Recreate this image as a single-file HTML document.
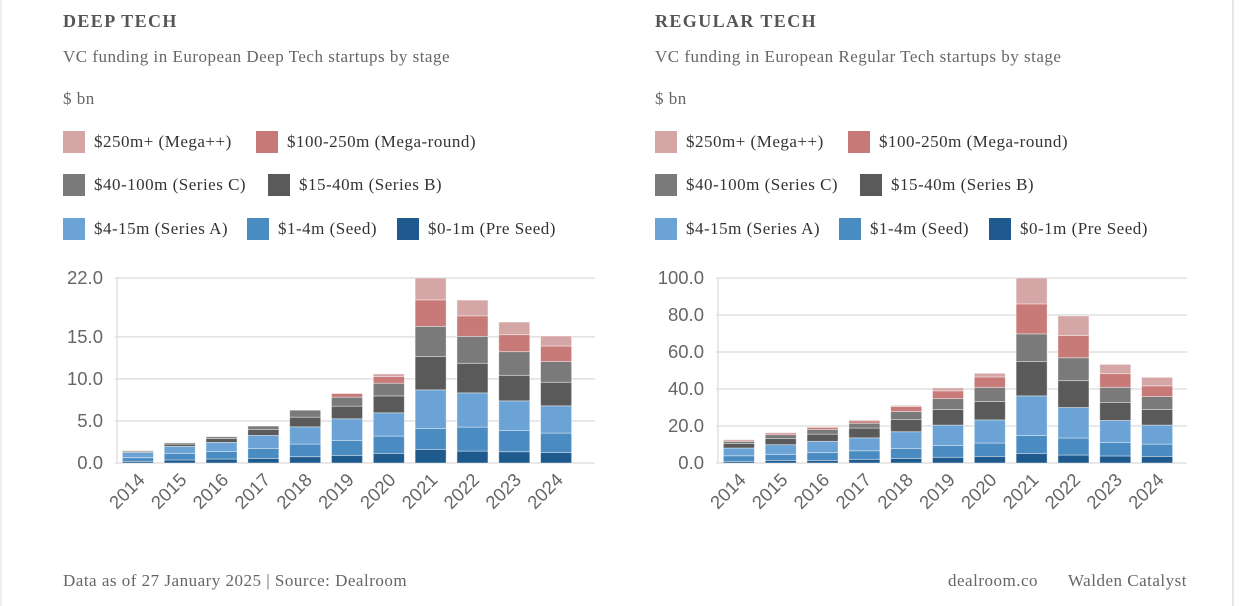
<!DOCTYPE html>
<html><head><meta charset="utf-8"><style>
body{margin:0;background:#fff;width:1248px;height:606px;overflow:hidden;position:relative;font-family:"Liberation Serif",serif;color:#555}
.t{position:absolute;font-weight:bold;font-size:18px;letter-spacing:1.4px;color:#555}
.s{position:absolute;font-size:17px;letter-spacing:0.5px;color:#666}
.lg{position:absolute;font-size:17px;letter-spacing:0.5px;color:#333;display:flex;align-items:center}
.sw{width:22px;height:22px;margin-right:9px;display:inline-block}
svg{position:absolute;left:0;top:0}
</style></head><body>
<div style="position:absolute;left:1232px;top:0;width:2px;height:606px;background:#e6e6e6"></div>
<div style="position:absolute;left:0;top:0;width:2px;height:606px;background:#eee"></div>
<div class="t" style="left:63px;top:11px">DEEP TECH</div>
<div class="s" style="left:63px;top:47px">VC funding in European Deep Tech startups by stage</div>
<div class="s" style="left:63px;top:89px">$ bn</div>
<div class="t" style="left:655px;top:11px">REGULAR TECH</div>
<div class="s" style="left:655px;top:47px">VC funding in European Regular Tech startups by stage</div>
<div class="s" style="left:655px;top:89px">$ bn</div>
<div id="legends"></div>
<div class="s" style="left:63px;top:571px">Data as of 27 January 2025 | Source: Dealroom</div>
<div class="s" style="left:948px;top:571px">dealroom.co</div>
<div class="s" style="left:1068px;top:571px">Walden Catalyst</div>
<svg id="svg" width="1248" height="606"></svg>
<script>
const years=["2014","2015","2016","2017","2018","2019","2020","2021","2022","2023","2024"];
const stages=["$0-1m (Pre Seed)","$1-4m (Seed)","$4-15m (Series A)","$15-40m (Series B)","$40-100m (Series C)","$100-250m (Mega-round)","$250m+ (Mega++)"];
const colors=["#1f5a8e","#4a8bc2","#6ba3d6","#5a5a5a","#7a7a7a","#c77a78","#d5a6a6"];
// deep tech values per stage (bn)
const deepPreSeed=[0.2,0.36,0.47,0.55,0.75,0.91,1.15,1.62,1.42,1.34,1.26];
const deepSeed=[0.43,0.79,0.91,1.19,1.5,1.78,2.05,2.49,2.85,2.53,2.3];
const deepA=[0.63,0.83,1.07,1.54,2.05,2.57,2.77,4.59,4.07,3.52,3.24];
const deepB=[0.12,0.27,0.47,0.71,1.15,1.5,2.01,3.95,3.52,3.04,2.8];
const deepC=[0.08,0.15,0.2,0.4,0.83,1.07,1.51,3.6,3.2,2.81,2.46];
const deepMega=[0,0,0,0,0,0.43,0.79,3.15,2.44,2.02,1.85];
const deepMegaPP=[0,0,0,0,0,0,0.31,2.6,1.87,1.5,1.19];
// regular tech values per stage (bn)
const regPreSeed=[0.9,1.4,1.4,2.0,2.5,3.1,3.6,5.2,4.3,3.8,3.6];
const regSeed=[3.0,3.3,4.2,4.6,5.4,6.4,7.2,9.7,9.2,7.3,6.6];
const regA=[4.2,5.2,6.1,7.0,9.0,11.0,12.5,21.4,16.5,11.9,10.3];
const regB=[2.5,3.4,3.9,5.3,6.6,8.4,9.9,18.5,14.5,9.7,8.4];
const regC=[1.1,2.0,2.5,2.6,4.3,5.9,7.7,15.0,12.4,8.2,7.0];
const regMega=[0.7,0.9,1.1,1.3,2.7,4.2,5.6,16.2,12.0,7.4,5.8];
const regMegaPP=[0.2,0.2,0.4,0.5,0.6,1.6,2.0,14.0,10.6,5.0,4.6];
const deepTicks=[0,5,10,15,22];
const regTicks=[0,20,40,60,80,100];

const NS="http://www.w3.org/2000/svg";
const svg=document.getElementById('svg');
function mk(tag,attrs){const e=document.createElementNS(NS,tag);for(const k in attrs)e.setAttribute(k,attrs[k]);svg.appendChild(e);return e;}
function chart(prefix,series,ticks,max,x0,x1,gridR){
  const y0=463,yTop=278;
  const ys=v=>y0-(v/max)*(y0-yTop);
  const band=(x1-x0)/years.length;
  ticks.forEach(t=>{
    const l=mk('line',{x1:x0-2,x2:gridR,y1:ys(t),y2:ys(t),stroke:'#e0e0e0','stroke-width':1.5});
    
    
    const tx=mk('text',{x:x0-14,y:ys(t)+6,'text-anchor':'end','font-family':'Liberation Sans, sans-serif','font-size':18.5,fill:'#666'});
    tx.textContent=t.toFixed(1);
    
    
  });
  const ax=mk('line',{x1:x0,x2:x0,y1:yTop,y2:y0,stroke:'#e0e0e0','stroke-width':1.5});
  
  
  years.forEach((yr,i)=>{
    const cx=x0+band*(i+0.5);
    let cum=0;
    series.forEach((s,j)=>{
      const v=s[i];if(v<=0)return;
      const r=mk('rect',{x:cx-15.5,width:31,y:ys(cum+v),height:ys(cum)-ys(cum+v),fill:colors[j],stroke:'#ffffff','stroke-opacity':0.5,'stroke-width':0.8});
      
      
      cum+=v;
    });
    const tx=mk('text',{x:cx+8,y:481,'text-anchor':'end','font-family':'Liberation Sans, sans-serif','font-size':18.5,fill:'#666',transform:`rotate(-45 ${cx+8} 481)`});
    tx.textContent=yr;
    
    
  });
}
chart('deep',[deepPreSeed,deepSeed,deepA,deepB,deepC,deepMega,deepMegaPP],deepTicks,22,117,577,595);
chart('regular',[regPreSeed,regSeed,regA,regB,regC,regMega,regMegaPP],regTicks,100,718,1178,1187);

const legendRows=[[6,5],[4,3],[2,1,0]];
const lx=[[63,256],[63,268],[63,247,397]];
const lyArr=[131,174,218];
const L=document.getElementById('legends');
[0,592].forEach((off,c)=>{
  legendRows.forEach((row,ri)=>{
    row.forEach((si,k)=>{
      const d=document.createElement('div');
      d.className='lg';
      d.style.left=(lx[ri][k]+off)+'px';d.style.top=lyArr[ri]+'px';
      
      
      d.innerHTML='<span class="sw" style="background:'+colors[si]+'"></span>'+stages[si];
      L.appendChild(d);
    });
  });
});
</script>
</body></html>
